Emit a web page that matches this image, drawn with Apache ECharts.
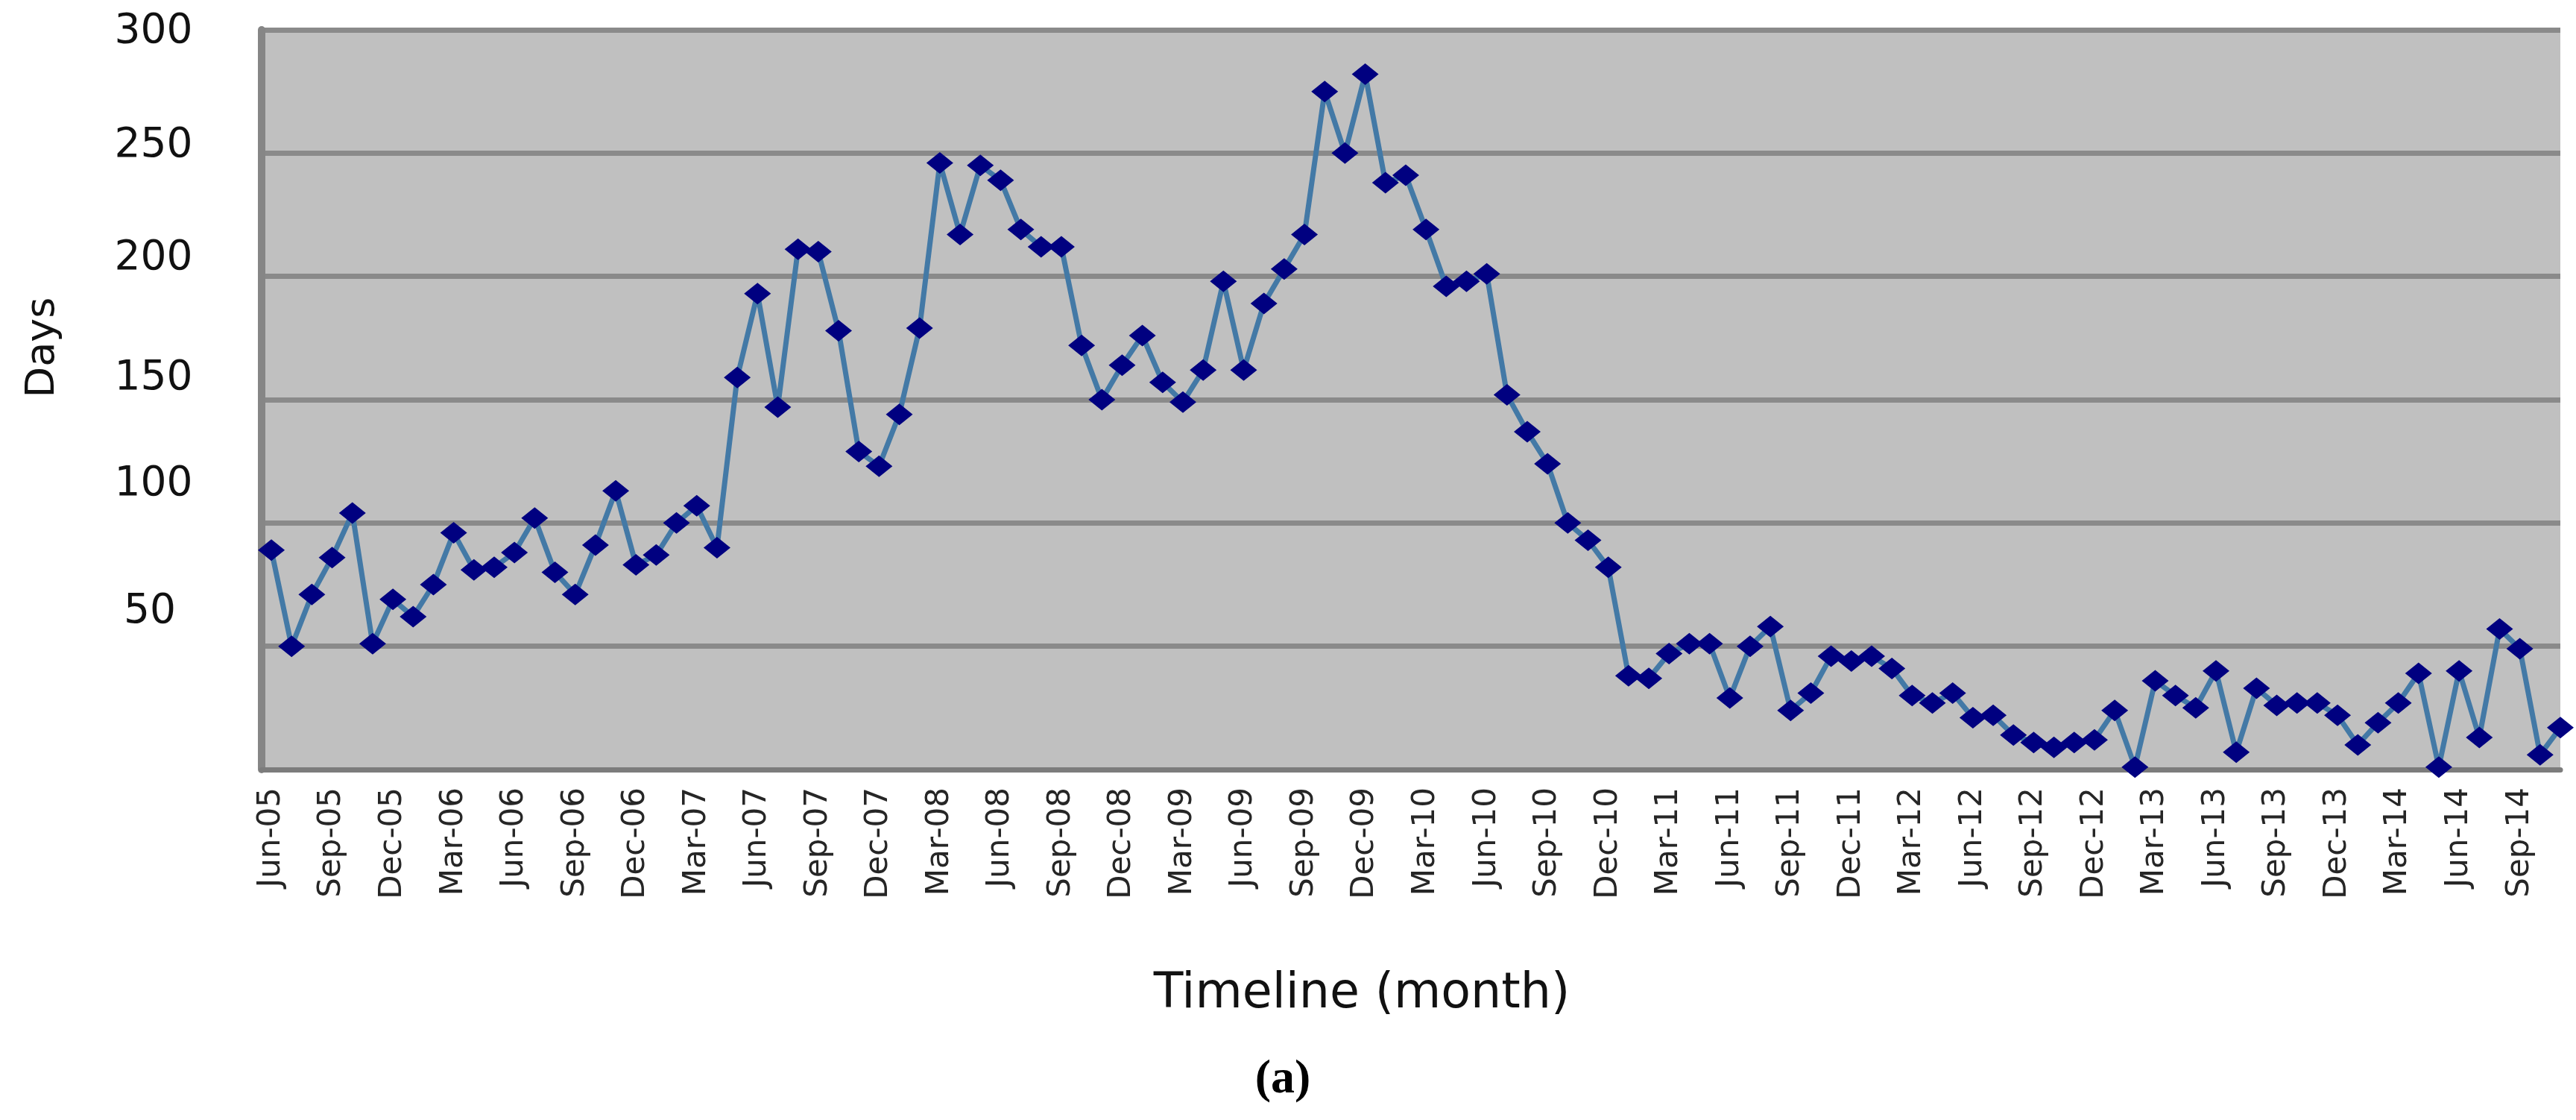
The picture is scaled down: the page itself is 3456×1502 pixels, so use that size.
<!DOCTYPE html>
<html>
<head>
<meta charset="utf-8">
<script src="https://cdn.jsdelivr.net/npm/echarts@6/dist/echarts.min.js"></script>
<style>
  html, body { margin: 0; padding: 0; background: #ffffff; overflow: hidden; }
  #chart { width: 3456px; height: 1502px; }
</style>
</head>
<body>
<div id="chart"></div>
<script>
// ---- Data ----
const categories = [
  'Jun-05','Jul-05','Aug-05','Sep-05','Oct-05','Nov-05','Dec-05',
  'Jan-06','Feb-06','Mar-06','Apr-06','May-06','Jun-06','Jul-06','Aug-06','Sep-06','Oct-06','Nov-06','Dec-06',
  'Jan-07','Feb-07','Mar-07','Apr-07','May-07','Jun-07','Jul-07','Aug-07','Sep-07','Oct-07','Nov-07','Dec-07',
  'Jan-08','Feb-08','Mar-08','Apr-08','May-08','Jun-08','Jul-08','Aug-08','Sep-08','Oct-08','Nov-08','Dec-08',
  'Jan-09','Feb-09','Mar-09','Apr-09','May-09','Jun-09','Jul-09','Aug-09','Sep-09','Oct-09','Nov-09','Dec-09',
  'Jan-10','Feb-10','Mar-10','Apr-10','May-10','Jun-10','Jul-10','Aug-10','Sep-10','Oct-10','Nov-10','Dec-10',
  'Jan-11','Feb-11','Mar-11','Apr-11','May-11','Jun-11','Jul-11','Aug-11','Sep-11','Oct-11','Nov-11','Dec-11',
  'Jan-12','Feb-12','Mar-12','Apr-12','May-12','Jun-12','Jul-12','Aug-12','Sep-12','Oct-12','Nov-12','Dec-12',
  'Jan-13','Feb-13','Mar-13','Apr-13','May-13','Jun-13','Jul-13','Aug-13','Sep-13','Oct-13','Nov-13','Dec-13',
  'Jan-14','Feb-14','Mar-14','Apr-14','May-14','Jun-14','Jul-14','Aug-14','Sep-14','Oct-14','Nov-14'
];

const days = [
  89, 50, 71, 86, 104, 51, 69,
  62, 75, 96, 81, 82, 88, 102, 80, 71, 91, 113, 83,
  87, 100, 107, 90, 159, 193, 147, 211, 210, 178, 129, 123,
  144, 179, 246, 217, 245, 239, 219, 212, 212, 172, 150, 164,
  176, 157, 149, 162, 198, 162, 189, 203, 217, 275, 250, 282,
  238, 241, 219, 196, 198, 201, 152, 137, 124, 100, 93, 82,
  38, 37, 47, 51, 51, 29, 50, 58, 24, 31, 46, 44,
  46, 41, 30, 27, 31, 21, 22, 14, 11, 9, 11, 12,
  24, 1, 36, 30, 25, 40, 7, 33, 26, 27, 27, 22,
  10, 19, 27, 39, 1, 40, 13, 57, 49, 6, 17
];

const tickLabels = [
  'Jun-05','Sep-05','Dec-05','Mar-06','Jun-06','Sep-06','Dec-06','Mar-07','Jun-07','Sep-07',
  'Dec-07','Mar-08','Jun-08','Sep-08','Dec-08','Mar-09','Jun-09','Sep-09','Dec-09','Mar-10',
  'Jun-10','Sep-10','Dec-10','Mar-11','Jun-11','Sep-11','Dec-11','Mar-12','Jun-12','Sep-12',
  'Dec-12','Mar-13','Jun-13','Sep-13','Dec-13','Mar-14','Jun-14','Sep-14'
];

const yTicks = [0, 50, 100, 150, 200, 250, 300];

const yAxisTitle = 'Days';
const xAxisTitle = 'Timeline (month)';
const panelLabel = '(a)';

// ---- Build ----
const seriesData = days.map((v, i) => [i, v]);
const tickPositions = tickLabels.map(l => categories.indexOf(l));

const labelFont = 'DejaVu Sans';
const yRich = {
  r300: { fontFamily: labelFont, fontSize: 55, color: '#111', padding: [6, 0, 0, 0] },
  r250: { fontFamily: labelFont, fontSize: 55, color: '#111', padding: [0, 0, 20, 0] },
  r200: { fontFamily: labelFont, fontSize: 55, color: '#111', padding: [0, 0, 48, 0] },
  r150: { fontFamily: labelFont, fontSize: 55, color: '#111', padding: [0, 0, 56, 0] },
  r100: { fontFamily: labelFont, fontSize: 55, color: '#111', padding: [0, 0, 104, 0] },
  r50:  { fontFamily: labelFont, fontSize: 55, color: '#111', padding: [0, 10, 92, 0] }
};

const chart = echarts.init(document.getElementById('chart'), null, { renderer: 'canvas' });

chart.setOption({
  backgroundColor: '#ffffff',
  animation: false,
  grid: {
    left: 351, right: 21, top: 40, bottom: 470,
    show: true, backgroundColor: '#c0c0c0', borderWidth: 0
  },
  xAxis: {
    type: 'value',
    min: -0.48,
    max: 113,
    splitLine: { show: false },
    axisTick: { show: false },
    axisLine: { show: true, onZero: false, lineStyle: { color: '#7c7c7c', width: 7 } },
    axisLabel: {
      customValues: tickPositions,
      rotate: 90,
      margin: 24,
      fontFamily: labelFont,
      fontSize: 42,
      color: '#262626',
      formatter: v => categories[Math.round(v)] || ''
    }
  },
  yAxis: {
    type: 'value',
    min: yTicks[0],
    max: yTicks[yTicks.length - 1],
    interval: 50,
    axisTick: { show: false },
    axisLine: { show: true, onZero: false, lineStyle: { color: '#868686', width: 10 } },
    splitLine: { show: true, lineStyle: { color: '#8a8a8a', width: 7 } },
    axisLabel: {
      align: 'center',
      margin: 145,
      fontFamily: labelFont,
      fontSize: 55,
      color: '#111',
      formatter: v => (v === 0 ? '' : '{r' + v + '|' + v + '}'),
      rich: yRich
    }
  },
  graphic: [
    {
      type: 'text',
      x: 58, y: 466,
      rotation: Math.PI / 2,
      style: {
        text: yAxisTitle, fontFamily: labelFont, fontSize: 54, fill: '#111',
        align: 'center', verticalAlign: 'middle'
      }
    },
    {
      type: 'text',
      x: 1827, y: 1334,
      style: {
        text: xAxisTitle, fontFamily: labelFont, fontSize: 65, fill: '#111',
        align: 'center', verticalAlign: 'middle'
      }
    },
    {
      type: 'text',
      x: 1721, y: 1448,
      style: {
        text: panelLabel, fontFamily: 'Liberation Serif', fontSize: 64, fontWeight: 'bold', fill: '#000',
        align: 'center', verticalAlign: 'middle'
      }
    }
  ],
  series: [{
    type: 'line',
    data: seriesData,
    clip: true,
    symbol: 'diamond',
    symbolSize: [36, 29],
    showAllSymbol: true,
    itemStyle: { color: '#000080' },
    lineStyle: { color: '#4379a6', width: 7 },
    z: 3
  }]
});
</script>
</body>
</html>
